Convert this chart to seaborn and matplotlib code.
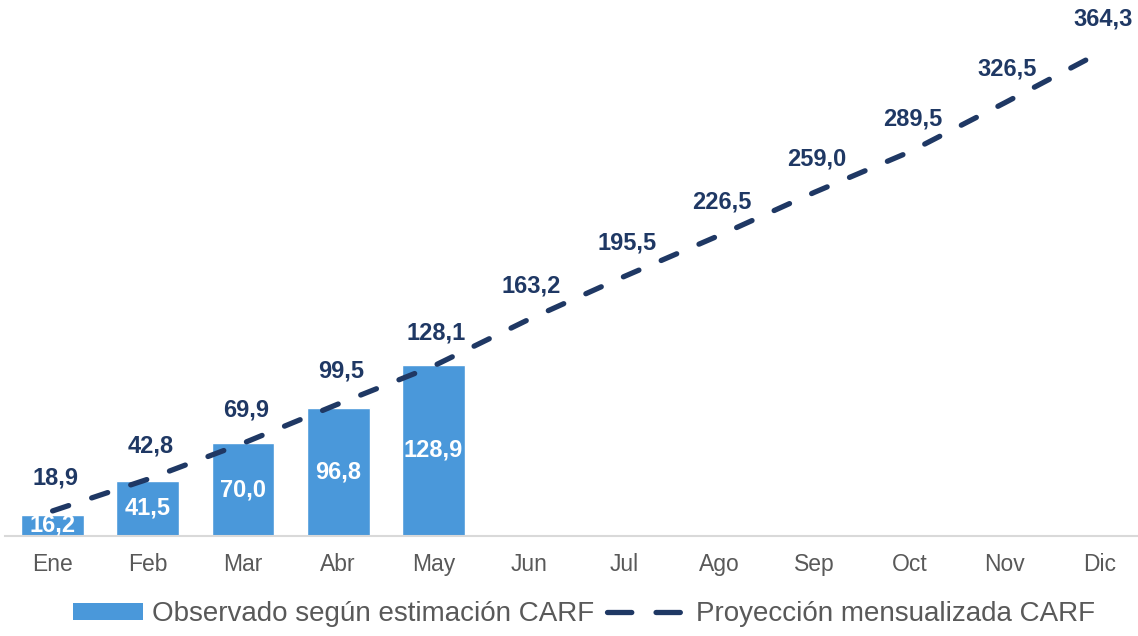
import numpy as np
import pandas as pd
import matplotlib
matplotlib.use("Agg")
import matplotlib.pyplot as plt
import seaborn as sns
from matplotlib.patches import Patch, Rectangle
from matplotlib.lines import Line2D
from matplotlib.legend_handler import HandlerPatch

meses = ["Ene", "Feb", "Mar", "Abr", "May", "Jun", "Jul", "Ago", "Sep", "Oct", "Nov", "Dic"]
observado = [16.2, 41.5, 70.0, 96.8, 128.9]
proyeccion = [18.9, 42.8, 69.9, 99.5, 128.1, 163.2, 195.5, 226.5, 259.0, 289.5, 326.5, 364.3]

COLOR_BAR = "#4A98DA"
COLOR_LINE = "#1F3864"
COLOR_TICK = "#595959"


def fmt(v):
    return f"{v:.1f}".replace(".", ",")


def bar_handle(legend, orig_handle, xdescent, ydescent, width, height, fontsize):
    # narrower, flatter swatch than the default handle box
    w = width * 0.88
    h = fontsize * 0.62
    return Rectangle((-xdescent + width - w, -ydescent + (height - h) / 2), w, h)


sns.set_theme(style="white")
plt.rcParams["font.family"] = ["Liberation Sans", "DejaVu Sans"]

fig = plt.figure(figsize=(11.38, 6.36), dpi=100)
ax = fig.add_axes([5 / 1138, 100 / 636, 1133 / 1138, 536 / 636])

df_obs = pd.DataFrame({"mes": meses[:len(observado)], "valor": observado})
sns.barplot(data=df_obs, x="mes", y="valor", order=meses, color=COLOR_BAR,
            saturation=1, width=0.66, ax=ax)

df_proy = pd.DataFrame({"pos": np.arange(len(meses)), "valor": proyeccion})
sns.lineplot(data=df_proy, x="pos", y="valor", color=COLOR_LINE, lw=3.8,
             ax=ax, solid_capstyle="round", dash_capstyle="round")
ax.lines[-1].set_linestyle((0, (3.2, 4.6)))

# bar labels (white, centred in bar, clipped at axis)
for i, v in enumerate(observado):
    ax.text(i, v / 2, fmt(v), ha="center", va="center", color="white",
            fontsize=17, fontweight="bold", clip_on=True)

# line labels above points
for i, v in enumerate(proyeccion):
    ax.annotate(fmt(v), (i, v), xytext=(2, 24), textcoords="offset points",
                ha="center", va="center", color=COLOR_LINE,
                fontsize=17, fontweight="bold")

ax.set_xlim(-0.5, 11.4)
ax.set_ylim(0, 404)
ax.set_xlabel("")
ax.set_ylabel("")
ax.set_yticks([])
ax.set_xticks(range(len(meses)))
ax.set_xticklabels(meses)
ax.tick_params(axis="x", length=0, labelsize=16.5, labelcolor=COLOR_TICK, pad=12)
for s in ["top", "right", "left"]:
    ax.spines[s].set_visible(False)
ax.spines["bottom"].set_color("#D9D9D9")
ax.spines["bottom"].set_linewidth(1.5)

handles = [
    Patch(facecolor=COLOR_BAR, edgecolor="none"),
    Line2D([0], [0], color=COLOR_LINE, lw=3.8, linestyle=(0, (4.6, 4.6)),
           dash_capstyle="round"),
]
labels = ["Observado según estimación CARF", "Proyección mensualizada CARF"]
leg = fig.legend(handles, labels, loc="center", bbox_to_anchor=(0.509, 0.034),
                 ncol=2, frameon=False, fontsize=20, handlelength=2.85,
                 columnspacing=0.45, handletextpad=0.35,
                 handler_map={Patch: HandlerPatch(patch_func=bar_handle)})
for t in leg.get_texts():
    t.set_color(COLOR_TICK)

fig.savefig("out.png", dpi=100)
